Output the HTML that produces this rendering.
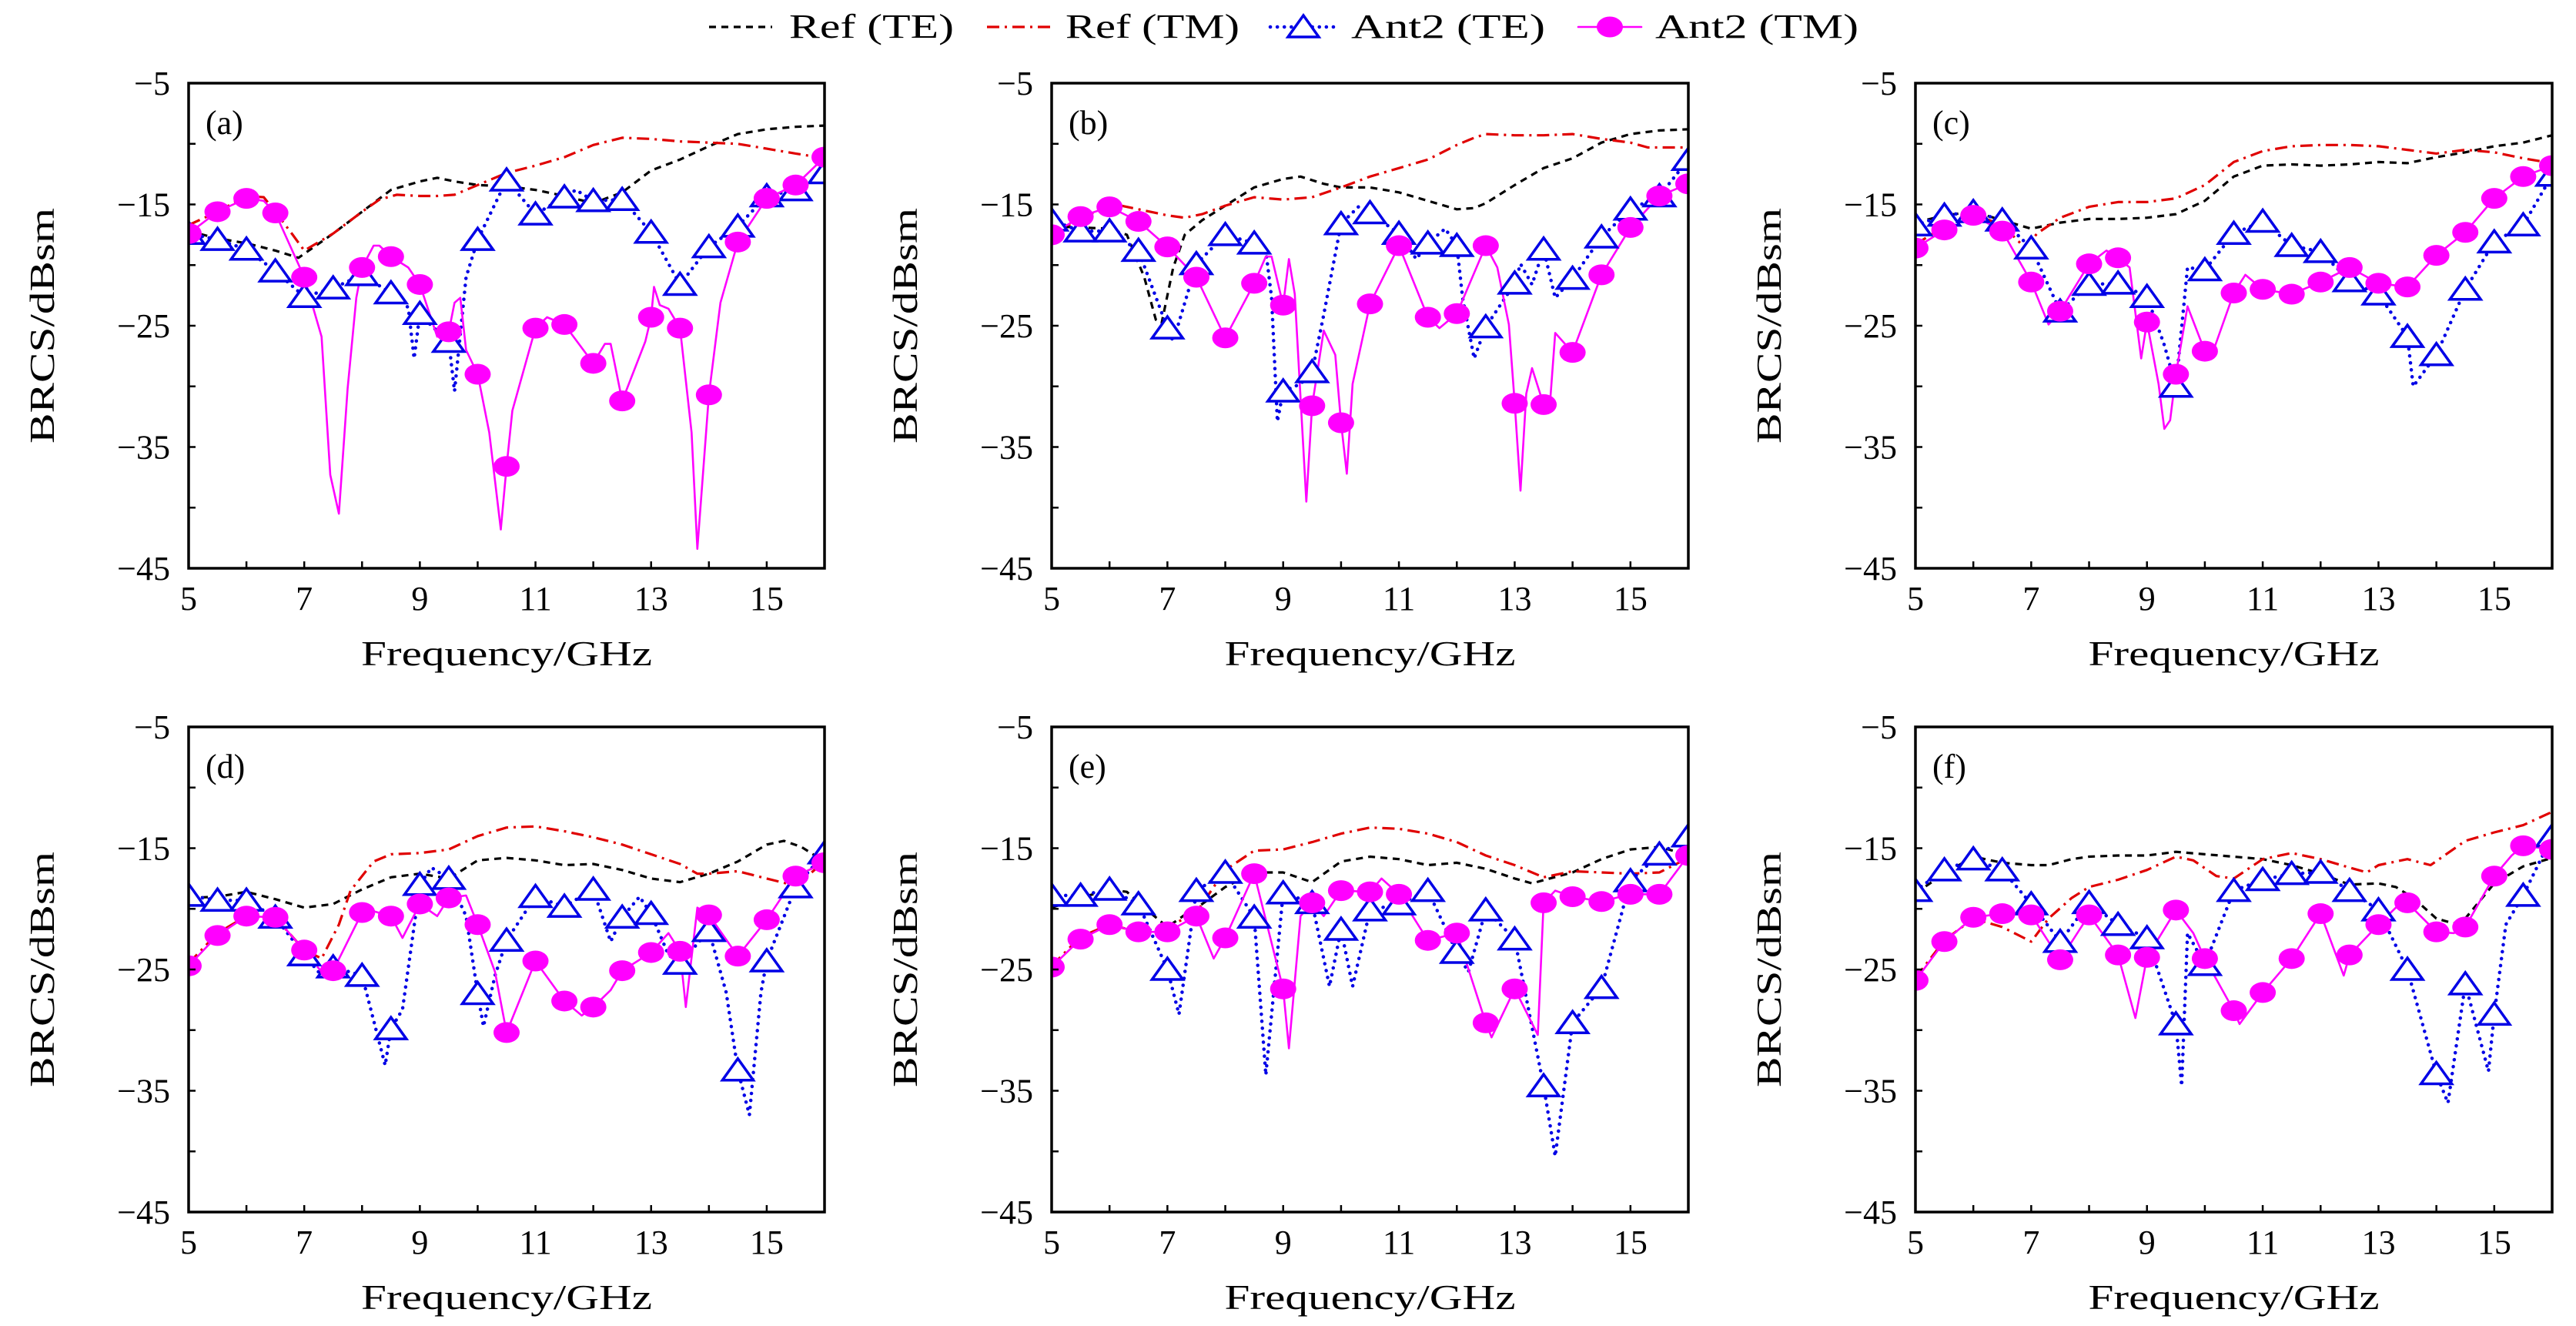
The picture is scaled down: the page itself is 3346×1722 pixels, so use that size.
<!DOCTYPE html>
<html><head><meta charset="utf-8">
<style>
html,body{margin:0;padding:0;background:#fff;}
svg{display:block;}
text{font-family:"Liberation Serif","DejaVu Serif",serif;fill:#000;}
</style></head>
<body>
<svg id="chart" xmlns="http://www.w3.org/2000/svg" width="3346" height="1722" viewBox="0 0 3346 1722">
<g id="legend"></g>
</svg>
<script>
// ---- data: frequency (GHz) and BRCS (dBsm) per panel and series ----
const a_refTE_f=[5,5.5,6,6.5,6.9,7.5,8,8.5,9,9.3,9.6,10,10.5,11,11.5,12,12.5,13,13.5,14,14.5,15,15.5,16];
const a_refTE_v=[-17.2,-17.8,-18.2,-18.8,-19.4,-17.4,-15.6,-13.8,-13.1,-12.8,-13.1,-13.4,-13.5,-13.8,-14.3,-14.9,-14.0,-12.2,-11.3,-10.2,-9.2,-8.8,-8.6,-8.5];
const a_refTM_f=[5,5.5,6,6.3,6.5,6.8,7,7.5,8,8.3,8.6,9,9.3,9.6,10,10.5,11,11.5,12,12.5,13,13.5,14,14.5,15,15.5,16];
const a_refTM_v=[-16.7,-15.6,-14.3,-14.4,-15.6,-17.5,-18.8,-17.4,-15.6,-14.6,-14.2,-14.3,-14.3,-14.2,-13.4,-12.4,-11.8,-11.1,-10.1,-9.5,-9.6,-9.8,-9.9,-10.0,-10.4,-10.8,-11.2];
const a_te_f=[5,5.5,6,6.5,7,7.5,8,8.5,8.8,8.9,9,9.2,9.5,9.6,9.8,10,10.5,11,11.5,11.7,12,12.5,13,13.5,14,14.5,15,15.5,16];
const a_te_v=[-17.4,-17.9,-18.7,-20.5,-22.6,-21.9,-20.8,-22.3,-23.5,-27.7,-24.0,-25.0,-26.3,-30.4,-21.0,-17.9,-13.0,-15.8,-14.4,-13.8,-14.7,-14.6,-17.3,-21.6,-18.5,-16.8,-14.3,-13.8,-12.4];
const a_tm_f=[5,5.5,6,6.3,6.5,7,7.3,7.45,7.6,7.75,7.9,8,8.2,8.3,8.5,8.8,9,9.3,9.5,9.6,9.7,9.8,10,10.2,10.4,10.5,10.6,11,11.2,11.5,12,12.2,12.3,12.5,12.9,13,13.05,13.15,13.3,13.5,13.7,13.8,14,14.2,14.5,15,15.5,16];
const a_tm_v=[-17.4,-15.6,-14.5,-14.7,-15.7,-21.0,-25.9,-37.3,-40.5,-30.2,-22.7,-20.2,-18.4,-18.4,-19.3,-20.2,-21.6,-25.9,-25.5,-23.1,-22.7,-27.0,-29.0,-33.8,-41.8,-36.6,-32.0,-25.2,-24.3,-24.9,-28.1,-26.5,-26.5,-31.2,-26.3,-24.3,-21.8,-23.3,-23.6,-25.2,-33.8,-43.4,-30.7,-23.1,-18.1,-14.5,-13.4,-11.1];

const b_refTE_f=[5,5.5,6,6.3,6.6,6.8,6.9,7.1,7.3,7.6,8,8.5,9,9.3,9.7,10,10.5,11,11.5,12,12.3,12.5,13,13.5,14,14.5,15,15.5,16];
const b_refTE_v=[-16.8,-16.9,-17.0,-17.5,-21.0,-24.5,-24.8,-20.2,-17.5,-16.3,-15.1,-13.6,-12.9,-12.7,-13.3,-13.6,-13.6,-14.0,-14.7,-15.4,-15.3,-14.9,-13.4,-12.0,-11.2,-9.9,-9.2,-8.9,-8.8];
const b_refTM_f=[5,5.5,6,6.5,7,7.3,7.6,8,8.5,9,9.5,10,10.5,11,11.5,12,12.3,12.5,13,13.5,14,14.5,15,15.3,15.6,16];
const b_refTM_v=[-17.2,-16.3,-14.9,-15.4,-15.9,-16.1,-15.8,-15.1,-14.4,-14.6,-14.4,-13.6,-12.7,-12.0,-11.3,-10.1,-9.5,-9.2,-9.3,-9.3,-9.2,-9.6,-9.9,-10.3,-10.3,-10.3];
const b_te_f=[5,5.5,6,6.5,7,7.1,7.5,8,8.5,8.7,8.8,8.9,9,9.3,9.5,9.7,10,10.3,10.5,11,11.3,11.5,11.8,12,12.1,12.3,12.5,13,13.1,13.3,13.5,13.7,14,14.5,15,15.5,16];
const b_te_v=[-16.3,-17.2,-17.2,-18.8,-25.2,-26.3,-19.9,-17.5,-18.2,-18.8,-22.7,-32.9,-30.4,-29.8,-28.8,-24.1,-16.6,-15.2,-15.7,-17.4,-19.5,-18.2,-17.0,-18.4,-22.7,-27.7,-25.1,-21.5,-19.9,-21.6,-18.7,-22.7,-21.1,-17.7,-15.4,-14.3,-11.3];
const b_tm_f=[5,5.5,6,6.5,7,7.5,8,8.5,8.7,8.8,9,9.1,9.2,9.4,9.5,9.7,9.9,10,10.1,10.2,10.5,11,11.5,11.7,12,12.5,12.7,12.9,13,13.1,13.2,13.3,13.5,13.6,13.7,14,14.5,15,15.5,16];
const b_tm_v=[-17.5,-16.0,-15.2,-16.4,-18.5,-21.0,-26.0,-21.5,-19.3,-19.3,-23.3,-19.5,-22.4,-39.5,-31.6,-25.4,-27.4,-33.0,-37.2,-29.8,-23.2,-18.4,-24.3,-25.2,-24.0,-18.4,-20.2,-24.9,-31.4,-38.6,-30.6,-28.5,-31.5,-32.0,-25.6,-27.2,-20.8,-16.9,-14.3,-13.3];

const c_refTE_f=[5,5.5,6,6.5,7,7.5,8,8.5,9,9.5,10,10.5,11,11.5,12,12.5,13,13.5,14,14.5,15,15.5,16];
const c_refTE_v=[-16.5,-15.9,-15.6,-16.3,-17.0,-16.5,-16.2,-16.2,-16.1,-15.8,-14.7,-12.7,-11.8,-11.7,-11.8,-11.7,-11.5,-11.6,-11.1,-10.7,-10.2,-9.9,-9.3];
const c_refTM_f=[5,5.5,6,6.5,6.9,7.1,7.5,8,8.5,9,9.5,10,10.5,11,11.5,12,12.5,13,13.5,14,14.5,15,15.5,16];
const c_refTM_v=[-18.3,-16.8,-15.8,-16.7,-18.6,-17.4,-16.1,-15.2,-14.8,-14.8,-14.5,-13.4,-11.5,-10.6,-10.2,-10.1,-10.1,-10.2,-10.5,-10.8,-10.5,-10.7,-11.2,-11.6];
const c_te_f=[5,5.5,6,6.5,7,7.5,8,8.5,9,9.3,9.5,9.7,10,10.5,11,11.5,12,12.5,13,13.5,13.6,14,14.5,15,15.5,16];
const c_te_v=[-16.7,-15.9,-15.6,-16.3,-18.6,-23.8,-21.6,-21.5,-22.6,-26.6,-30.0,-20.2,-20.4,-17.4,-16.4,-18.4,-18.9,-21.3,-22.4,-25.9,-30.0,-27.4,-22.0,-18.1,-16.7,-12.6];
const c_tm_f=[5,5.5,6,6.5,7,7.3,7.5,8,8.3,8.5,8.7,8.9,9,9.2,9.3,9.4,9.5,9.7,10,10.1,10.5,10.7,11,11.5,12,12.5,13,13.5,14,14.5,15,15.5,16];
const c_tm_v=[-18.6,-17.1,-15.9,-17.2,-21.4,-24.9,-23.8,-19.9,-18.8,-19.4,-20.2,-27.7,-24.7,-29.8,-33.5,-32.8,-29.0,-23.4,-27.1,-27.7,-22.3,-20.8,-22.0,-22.4,-21.4,-20.2,-21.5,-21.8,-19.2,-17.3,-14.5,-12.7,-11.8];

const d_refTE_f=[5,5.5,6,6.5,7,7.5,8,8.5,9,9.5,10,10.5,11,11.5,12,12.5,13,13.5,14,14.5,15,15.3,15.6,16];
const d_refTE_v=[-19.1,-19.0,-18.6,-19.2,-19.9,-19.6,-18.4,-17.4,-17.1,-17.5,-16.0,-15.8,-16.0,-16.4,-16.3,-16.8,-17.5,-17.8,-17.1,-16.1,-14.7,-14.4,-14.9,-16.1];
const d_refTM_f=[5,5.5,6,6.5,7,7.3,7.6,7.8,8.2,8.5,9,9.5,10,10.5,11,11.5,12,12.5,13,13.5,13.8,14,14.5,15,15.5,16];
const d_refTM_v=[-24.5,-22.0,-20.6,-20.7,-23.4,-24.1,-21.3,-18.5,-16.1,-15.5,-15.4,-15.1,-14.0,-13.3,-13.2,-13.6,-14.1,-14.7,-15.5,-16.3,-17.1,-17.1,-16.9,-17.5,-18.1,-16.1];
const d_te_f=[5,5.5,6,6.5,7,7.3,7.5,8,8.4,8.5,8.7,9,9.2,9.5,9.8,10,10.1,10.3,10.5,11,11.5,12,12.3,12.5,12.8,13,13.3,13.5,14,14.3,14.5,14.7,14.9,15,15.5,16];
const d_te_v=[-18.9,-19.3,-19.3,-20.7,-23.8,-25.5,-24.8,-25.5,-32.9,-29.9,-28.3,-18.0,-16.6,-17.5,-20.6,-27.0,-29.7,-25.5,-22.6,-19.0,-19.8,-18.4,-22.7,-20.7,-19.0,-20.4,-23.8,-24.5,-21.8,-26.9,-33.3,-37.0,-26.9,-24.3,-18.2,-15.4];
const d_tm_f=[5,5.5,6,6.5,7,7.3,7.5,8,8.2,8.5,8.7,9,9.3,9.5,9.8,10,10.3,10.5,11,11.5,11.8,12,12.3,12.5,13,13.3,13.5,13.6,13.8,14,14.5,15,15.5,16];
const d_tm_v=[-24.7,-22.2,-20.6,-20.7,-23.4,-25.2,-25.1,-20.3,-20.2,-20.6,-22.4,-19.6,-20.6,-19.1,-18.9,-21.3,-25.2,-30.2,-24.3,-27.6,-28.8,-28.1,-26.7,-25.1,-23.6,-22.0,-23.5,-28.1,-19.9,-20.5,-23.9,-20.9,-17.3,-16.2];

const e_refTE_f=[5,5.5,6,6.3,6.6,7,7.3,7.6,8,8.5,9,9.5,10,10.5,11,11.5,12,12.5,13,13.3,13.6,14,14.5,15,15.5,15.8,16];
const e_refTE_v=[-19.9,-19.1,-18.4,-18.6,-19.9,-21.5,-20.5,-19.6,-18.2,-17.0,-17.0,-17.8,-16.1,-15.7,-15.9,-16.4,-16.2,-16.7,-17.5,-17.9,-17.5,-17.0,-15.9,-15.1,-14.9,-15.3,-15.9];
const e_refTM_f=[5,5.5,6,6.5,7,7.5,8,8.5,9,9.5,10,10.5,11,11.5,12,12.5,13,13.5,14,14.5,15,15.5,16];
const e_refTM_v=[-24.7,-22.3,-21.3,-21.9,-21.5,-20.3,-16.8,-15.2,-15.1,-14.5,-13.8,-13.3,-13.4,-13.8,-14.5,-15.6,-16.4,-17.4,-16.9,-17.0,-17.1,-17.0,-15.8];
const e_te_f=[5,5.5,6,6.5,7,7.2,7.5,8,8.5,8.7,9,9.5,9.8,10,10.2,10.5,11,11.5,12,12.2,12.5,13,13.5,13.7,14,14.5,15,15.5,16];
const e_te_v=[-18.9,-18.9,-18.4,-19.6,-25.0,-28.7,-18.5,-17.0,-20.7,-33.7,-18.7,-19.5,-26.4,-21.7,-26.4,-20.1,-19.6,-18.5,-23.6,-25.2,-20.1,-22.5,-34.6,-40.4,-29.4,-26.5,-17.7,-15.5,-14.0];
const e_tm_f=[5,5.5,6,6.5,7,7.5,7.8,8,8.5,9,9.1,9.3,9.5,9.7,10,10.5,10.7,11,11.5,12,12.5,12.6,13,13.4,13.5,13.7,14,14.5,15,15.5,16];
const e_tm_v=[-24.8,-22.5,-21.3,-21.9,-21.9,-20.6,-24.1,-22.4,-17.1,-26.6,-31.5,-20.6,-19.5,-20.6,-18.5,-18.6,-17.5,-18.8,-22.6,-22.0,-29.4,-30.6,-26.6,-30.4,-19.5,-18.5,-19.0,-19.4,-18.8,-18.8,-15.6];

const f_refTE_f=[5,5.5,6,6.5,7,7.3,7.7,8,8.5,9,9.5,10,10.5,11,11.5,12,12.5,13,13.3,13.6,14,14.3,14.5,15,15.5,16];
const f_refTE_v=[-18.7,-17.1,-15.7,-16.2,-16.4,-16.4,-15.9,-15.7,-15.6,-15.6,-15.3,-15.5,-15.7,-15.9,-16.4,-17.1,-18.0,-17.9,-18.2,-19.1,-20.8,-21.2,-20.8,-17.9,-16.5,-15.8];
const f_refTM_f=[5,5.5,6,6.5,7,7.3,7.7,8,8.5,9,9.5,9.8,10.2,10.5,11,11.5,12,12.5,12.8,13,13.5,13.9,14.5,15,15.5,16];
const f_refTM_v=[-25.7,-22.6,-20.8,-21.5,-22.7,-20.8,-19.1,-18.2,-17.6,-16.8,-15.7,-16.0,-17.3,-17.5,-15.9,-15.4,-15.9,-16.6,-17.0,-16.4,-15.9,-16.4,-14.4,-13.7,-13.1,-12.0];
const f_te_f=[5,5.5,6,6.5,7,7.5,8,8.5,9,9.5,9.6,9.7,10,10.5,11,11.5,12,12.5,13,13.5,14,14.2,14.5,14.9,15,15.2,15.5,16];
const f_te_v=[-18.5,-16.8,-15.9,-16.8,-19.6,-22.7,-19.5,-21.3,-22.4,-29.5,-34.6,-22.0,-24.6,-18.5,-17.6,-17.1,-17.0,-18.5,-20.1,-25.0,-33.6,-36.0,-26.2,-33.4,-28.7,-21.3,-18.9,-14.0];
const f_tm_f=[5,5.5,6,6.5,7,7.5,8,8.5,8.8,9,9.5,9.8,10,10.5,10.6,11,11.5,12,12.4,12.5,13,13.3,13.5,14,14.3,14.5,15,15.3,15.5,16];
const f_tm_v=[-25.9,-22.7,-20.7,-20.4,-20.5,-24.2,-20.5,-23.8,-29.0,-24.0,-20.1,-22.0,-24.1,-28.4,-29.5,-26.9,-24.1,-20.4,-25.5,-23.8,-21.3,-19.9,-19.5,-21.9,-22.0,-21.5,-17.3,-15.6,-14.8,-15.1];

const xTicks=[5,6,7,8,9,10,11,12,13,14,15,16];
const xTickLabels=["5","","7","","9","","11","","13","","15",""];
const yTicks=[-5,-10,-15,-20,-25,-30,-35,-40,-45];
const yTickLabels=["\u22125","","\u221215","","\u221225","","\u221235","","\u221245"];
const panelLetters=["(a)","(b)","(c)","(d)","(e)","(f)"];
const legendLabels=["Ref (TE)","Ref (TM)","Ant2 (TE)","Ant2 (TM)"];

// ---- layout ----
const NS="http://www.w3.org/2000/svg";
const svg=document.getElementById('chart');
const panels=[
 {x:245,y:108,w:826,d:[a_refTE_f,a_refTE_v,a_refTM_f,a_refTM_v,a_te_f,a_te_v,a_tm_f,a_tm_v]},
 {x:1366,y:108,w:827,d:[b_refTE_f,b_refTE_v,b_refTM_f,b_refTM_v,b_te_f,b_te_v,b_tm_f,b_tm_v]},
 {x:2488,y:108,w:827,d:[c_refTE_f,c_refTE_v,c_refTM_f,c_refTM_v,c_te_f,c_te_v,c_tm_f,c_tm_v]},
 {x:245,y:944,w:826,d:[d_refTE_f,d_refTE_v,d_refTM_f,d_refTM_v,d_te_f,d_te_v,d_tm_f,d_tm_v]},
 {x:1366,y:944,w:827,d:[e_refTE_f,e_refTE_v,e_refTM_f,e_refTM_v,e_te_f,e_te_v,e_tm_f,e_tm_v]},
 {x:2488,y:944,w:827,d:[f_refTE_f,f_refTE_v,f_refTM_f,f_refTM_v,f_te_f,f_te_v,f_tm_f,f_tm_v]}
];
const H=630;
const styles=[
 {stroke:'#000',w:3.2,dash:'9 7',cap:'butt'},
 {stroke:'#e00000',w:3.2,dash:'16 7 3 7',cap:'butt'},
 {stroke:'#0000e6',w:4.5,dash:'0.1 9',cap:'round'},
 {stroke:'#ff00ff',w:2.6,dash:'',cap:'round'}
];
const seriesNames=['ref-te-line','ref-tm-line','ant2-te-line','ant2-tm-line'];

function mk(tag,attrs,parent){const e=document.createElementNS(NS,tag);for(const k in attrs)e.setAttribute(k,attrs[k]);parent.appendChild(e);return e;}
function triPts(cx,cy){return `${cx},${cy-15} ${cx-20},${cy+13} ${cx+20},${cy+13}`;}

panels.forEach((p,pi)=>{
 const sx=f=>p.x+(f-5)/11*p.w;
 const sy=v=>p.y+(-5-v)/40*H;
 const g=mk('g',{},svg);
 
 
 const clipId='clip'+pi;
 const cp=mk('clipPath',{id:clipId},g);
 mk('rect',{x:p.x,y:p.y,width:p.w,height:H},cp);
 for(let s=0;s<4;s++){
  const fs=p.d[s*2],vs=p.d[s*2+1];
  const pts=fs.map((f,i)=>sx(f).toFixed(1)+','+sy(vs[i]).toFixed(1)).join(' ');
  const st=styles[s];
  const pl=mk('polyline',{points:pts,fill:'none',stroke:st.stroke,'stroke-width':st.w,'stroke-linecap':st.cap,'stroke-linejoin':'round','clip-path':`url(#${clipId})`},g);
  if(st.dash)pl.setAttribute('stroke-dasharray',st.dash);
  
  
 }
 const mg=mk('g',{'clip-path':`url(#${clipId})`},g);
 p.d[4].forEach((f,i)=>{
  if(Math.abs(f*2-Math.round(f*2))>1e-6)return;
  const t=mk('polygon',{points:triPts(sx(f),sy(p.d[5][i])),fill:'#fff',stroke:'#0000e6','stroke-width':3.5},mg);
  
  
 });
 p.d[6].forEach((f,i)=>{
  if(Math.abs(f*2-Math.round(f*2))>1e-6)return;
  const c=mk('ellipse',{cx:sx(f),cy:sy(p.d[7][i]),rx:17,ry:13.5,fill:'#ff00ff'},mg);
  
  
 });
 const box=mk('rect',{x:p.x,y:p.y,width:p.w,height:H,fill:'none',stroke:'#000','stroke-width':3.5},g);
 
 
 xTicks.forEach((t,i)=>{
  const x=sx(t);
  mk('line',{x1:x,x2:x,y1:p.y+H,y2:p.y+H-9,stroke:'#000','stroke-width':2.5},g);
  if(xTickLabels[i]){
   const tx=mk('text',{x:x,y:p.y+H+54,'font-size':44,'text-anchor':'middle'},g);
   tx.textContent=xTickLabels[i];
   
   
  }
 });
 yTicks.forEach((t,i)=>{
  const y=sy(t);
  mk('line',{x1:p.x,x2:p.x+9,y1:y,y2:y,stroke:'#000','stroke-width':2.5},g);
  if(yTickLabels[i]){
   const ty=mk('text',{x:p.x-24,y:y+15,'font-size':44,'text-anchor':'end'},g);
   ty.textContent=yTickLabels[i];
   
   
  }
 });
 const xl=mk('text',{x:p.x+p.w/2,y:p.y+H+126,'font-size':46,'text-anchor':'middle',textLength:378,lengthAdjust:'spacingAndGlyphs'},g);
 xl.textContent='Frequency/GHz';
 
 
 const ycx=p.x-191+16, ycy=p.y+H/2;
 const yl=mk('text',{x:ycx,y:ycy,'font-size':46,'text-anchor':'middle',textLength:306,lengthAdjust:'spacingAndGlyphs',transform:`rotate(-90 ${ycx} ${ycy})`},g);
 yl.textContent='BRCS/dBsm';
 
 
 const pl=mk('text',{x:p.x+22,y:p.y+66,'font-size':44},g);
 pl.textContent=panelLetters[pi];
 
 
});

const lg=document.getElementById('legend');
const legLines=[[921,1003],[1282,1364],[1650,1736],[2050,2132]];
const legText=[[1025,214],[1384,226],[1755,252],[2150,264]];
for(let s=0;s<4;s++){
 const e=mk('g',{},lg);
 
 
 const st=styles[s];
 const l=mk('line',{x1:legLines[s][0],x2:legLines[s][1],y1:35,y2:35,stroke:st.stroke,'stroke-width':st.w,'stroke-linecap':st.cap},e);
 if(st.dash)l.setAttribute('stroke-dasharray',st.dash);
 const mx=(legLines[s][0]+legLines[s][1])/2;
 if(s===2)mk('polygon',{points:triPts(mx,35),fill:'#fff',stroke:'#0000e6','stroke-width':3.5},e);
 if(s===3)mk('ellipse',{cx:mx,cy:35,rx:17,ry:13.5,fill:'#ff00ff'},e);
 const t=mk('text',{x:legText[s][0],y:49,'font-size':44,textLength:legText[s][1],lengthAdjust:'spacingAndGlyphs'},e);
 t.textContent=legendLabels[s];
}
</script>
</body></html>
